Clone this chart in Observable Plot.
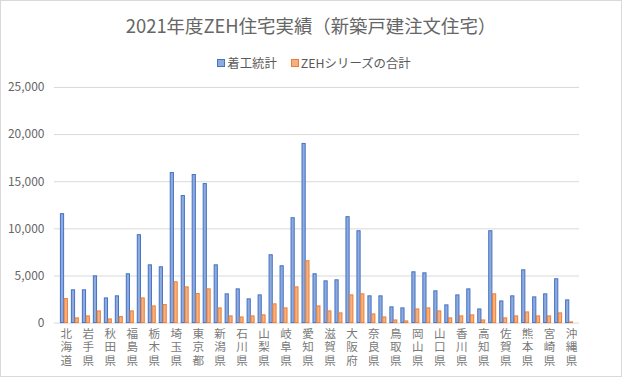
<!DOCTYPE html>
<html><head><meta charset="utf-8">
<script src="https://cdn.jsdelivr.net/npm/d3@7"></script>
<script src="https://cdn.jsdelivr.net/npm/@observablehq/plot@0.6"></script>
<style>
html,body{margin:0;padding:0;background:#fff;}
#wrap{position:relative;width:620px;height:375px;border:1px solid #d9d9d9;font-family:"Noto Sans CJK JP","Noto Sans",sans-serif;color:#595959;overflow:hidden;}
#title{position:absolute;top:11px;left:0;width:100%;text-align:center;font-size:18.4px;line-height:26px;color:#666;}
#legend{position:absolute;top:54px;left:3px;width:100%;display:flex;justify-content:center;gap:14px;font-size:12.4px;line-height:16px;}
#legend span{display:flex;align-items:center;gap:2px;}
#legend i{display:inline-block;width:6px;height:6px;border:1px solid;}
#chart{position:absolute;top:74px;left:-1px;}
</style></head>
<body><div id="wrap">
<div id="title">2021年度ZEH住宅実績（新築戸建注文住宅）</div>
<div id="legend"><span><i style="background:#8faadc;border-color:#4472c4"></i>着工統計</span><span><i style="background:#f4b183;border-color:#ed7d31"></i>ZEHシリーズの合計</span></div>
<div id="chart"></div>
</div>
<script>
const prefs = ["北海道","青森県","岩手県","宮城県","秋田県","山形県","福島県","茨城県","栃木県","群馬県","埼玉県","千葉県","東京都","神奈川県","新潟県","富山県","石川県","福井県","山梨県","長野県","岐阜県","静岡県","愛知県","三重県","滋賀県","京都府","大阪府","兵庫県","奈良県","和歌山県","鳥取県","島根県","岡山県","広島県","山口県","徳島県","香川県","愛媛県","高知県","福岡県","佐賀県","長崎県","熊本県","大分県","宮崎県","鹿児島県","沖縄県"];
const chakko = [11560,3480,3480,4960,2620,2840,5180,9330,6130,5920,15920,13480,15710,14750,6130,3050,3580,2520,2940,7200,6030,11130,19010,5180,4430,4540,11240,9750,2840,2840,1670,1560,5390,5280,3370,1880,2940,3580,1450,9750,2300,2840,5600,2730,3050,4650,2410];
const zeh = [2550,500,710,1240,390,640,1240,2620,1770,1910,4330,3790,3090,3580,1560,710,600,710,820,1990,1560,3790,6560,1770,1240,1030,2940,3050,920,600,280,180,1450,1560,1240,500,710,820,280,3050,500,710,1130,710,710,1030,70];
const yTicks = [0,5000,10000,15000,20000,25000];
const seriesNames = ["着工統計","ZEHシリーズの合計"];

const dataA = prefs.map((p,i)=>({pref:p, value:chakko[i], series:seriesNames[0]}));
const dataB = prefs.map((p,i)=>({pref:p, value:zeh[i], series:seriesNames[1]}));

const chart = Plot.plot({
  width: 622, height: 300,
  marginTop: 12, marginBottom: 52, marginLeft: 54, marginRight: 42,
  style: {fontFamily: '"Noto Sans CJK JP","Noto Sans",sans-serif', color: "#595959", background: "transparent"},
  x: {domain: prefs, padding: 0.28, label: null},
  y: {domain: [0, 25000], label: null},
  marks: [
    Plot.gridY(yTicks, {stroke: "#d9d9d9", strokeOpacity: 1}),
    Plot.axisY(yTicks, {tickSize: 0, tickPadding: 10, fontSize: 12, label: null, tickFormat: d3.format(","), fill: "#666"}),
    Plot.axisX({ticks: prefs.filter((_,i)=>i%2===0), tickSize: 0, tickPadding: 5, fontSize: 11.6, lineHeight: 1.18, dx: 2,
      tickFormat: d => d.split("").join("\n"), label: null, fill: "#7a7a7a"}),
    Plot.barY(dataA, {x: "pref", y: "value", fill: "#8faadc", stroke: "#4472c4", strokeWidth: 1, insetRight: 4.3, insetLeft: 0.5}),
    Plot.barY(dataB, {x: "pref", y: "value", fill: "#f4b183", stroke: "#ed7d31", strokeWidth: 1, insetLeft: 4.3, insetRight: 0.5})
  ]
});
document.getElementById("chart").appendChild(chart);
</script>
</body></html>
